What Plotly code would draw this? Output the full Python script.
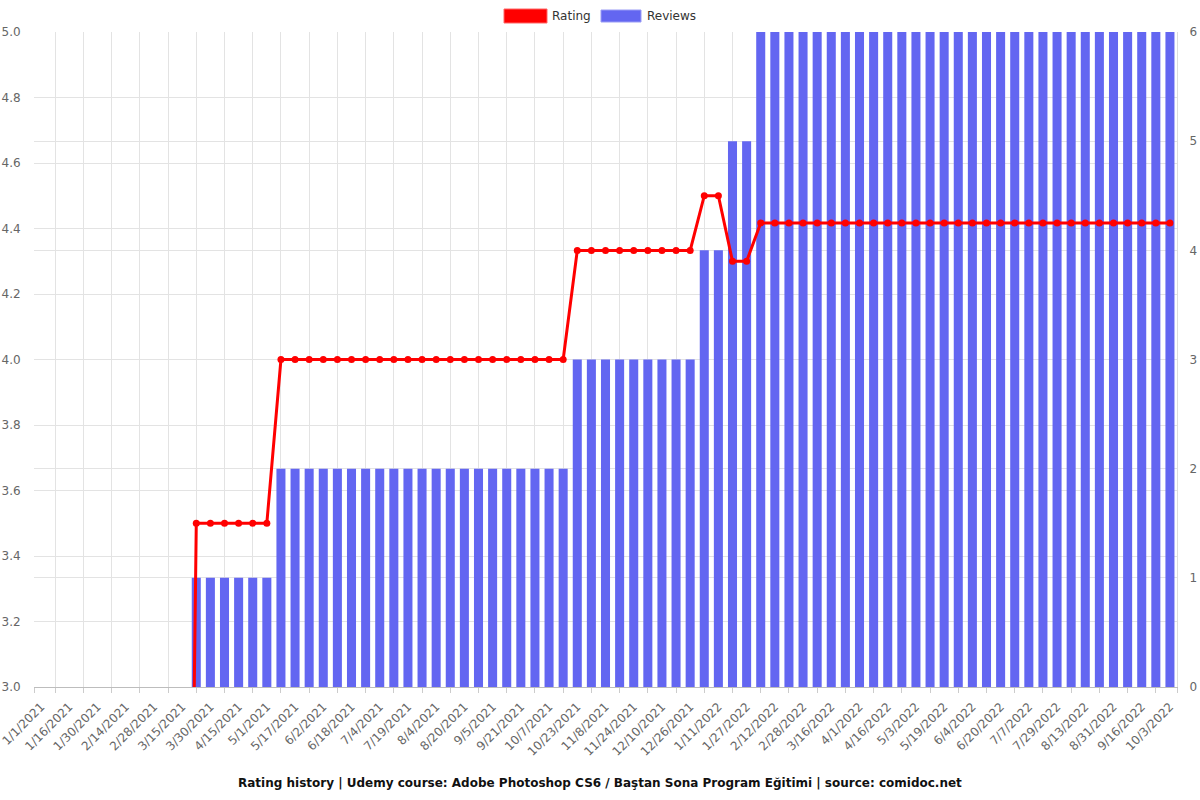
import plotly.graph_objects as go

dates = [
    "1/1/2021", "1/8/2021", "1/16/2021", "1/23/2021", "1/30/2021", "2/7/2021",
    "2/14/2021", "2/21/2021", "2/28/2021", "3/7/2021", "3/15/2021", "3/22/2021",
    "3/30/2021", "4/7/2021", "4/15/2021", "4/23/2021", "5/1/2021", "5/9/2021",
    "5/17/2021", "5/25/2021", "6/2/2021", "6/10/2021", "6/18/2021", "6/26/2021",
    "7/4/2021", "7/11/2021", "7/19/2021", "7/27/2021", "8/4/2021", "8/12/2021",
    "8/20/2021", "8/28/2021", "9/5/2021", "9/13/2021", "9/21/2021", "9/29/2021",
    "10/7/2021", "10/15/2021", "10/23/2021", "10/31/2021", "11/8/2021", "11/16/2021",
    "11/24/2021", "12/2/2021", "12/10/2021", "12/18/2021", "12/26/2021", "1/3/2022",
    "1/11/2022", "1/19/2022", "1/27/2022", "2/4/2022", "2/12/2022", "2/20/2022",
    "2/28/2022", "3/8/2022", "3/16/2022", "3/24/2022", "4/1/2022", "4/8/2022",
    "4/16/2022", "4/24/2022", "5/3/2022", "5/11/2022", "5/19/2022", "5/27/2022",
    "6/4/2022", "6/12/2022", "6/20/2022", "6/28/2022", "7/7/2022", "7/18/2022",
    "7/29/2022", "8/5/2022", "8/13/2022", "8/22/2022", "8/31/2022", "9/8/2022",
    "9/16/2022", "9/24/2022", "10/3/2022",
]

rating = [
    0, 0, 0, 0, 0, 0, 0, 0, 0, 0, 0,
    3.5, 3.5, 3.5, 3.5, 3.5, 3.5,
    4.0, 4.0, 4.0, 4.0, 4.0, 4.0, 4.0, 4.0, 4.0, 4.0, 4.0,
    4.0, 4.0, 4.0, 4.0, 4.0, 4.0, 4.0, 4.0, 4.0, 4.0,
    4.333, 4.333, 4.333, 4.333, 4.333, 4.333, 4.333, 4.333, 4.333,
    4.5, 4.5,
    4.3, 4.3,
    4.417, 4.417, 4.417, 4.417, 4.417, 4.417, 4.417, 4.417, 4.417, 4.417,
    4.417, 4.417, 4.417, 4.417, 4.417, 4.417, 4.417, 4.417, 4.417, 4.417,
    4.417, 4.417, 4.417, 4.417, 4.417, 4.417, 4.417, 4.417, 4.417, 4.417,
]

reviews = [
    0, 0, 0, 0, 0, 0, 0, 0, 0, 0, 0,
    1, 1, 1, 1, 1, 1,
    2, 2, 2, 2, 2, 2, 2, 2, 2, 2, 2,
    2, 2, 2, 2, 2, 2, 2, 2, 2, 2,
    3, 3, 3, 3, 3, 3, 3, 3, 3,
    4, 4,
    5, 5,
    6, 6, 6, 6, 6, 6, 6, 6, 6, 6,
    6, 6, 6, 6, 6, 6, 6, 6, 6, 6,
    6, 6, 6, 6, 6, 6, 6, 6, 6, 6,
]

title_text = ("Rating history | Udemy course: Adobe Photoshop CS6 / Baştan Sona "
              "Program Eğitimi | source: comidoc.net")

RED = "#ff0000"
BLUE = "#6366f1"
GRID = "#e3e3e3"
TXT = "#666666"
FONT = "DejaVu Sans"

idx = list(range(len(dates)))
label_pos = idx[::2]
label_txt = dates[::2]
minor_pos = [-0.5] + idx[1::2] + [len(dates) - 0.5]

fig = go.Figure()
fig.add_trace(go.Bar(
    x=idx, y=reviews, name="Reviews", yaxis="y",
    width=0.64,
    marker=dict(color=BLUE, line=dict(width=0)),
    showlegend=False,
))
fig.add_trace(go.Scatter(
    x=idx, y=rating, name="Rating", yaxis="y2",
    mode="lines+markers",
    line=dict(color=RED, width=3),
    marker=dict(color=RED, size=7),
    showlegend=False,
))

fig.update_layout(
    width=1200, height=800,
    margin=dict(l=34, r=23, t=32, b=113),
    paper_bgcolor="white", plot_bgcolor="white",
    font=dict(family=FONT, size=12, color=TXT),
    xaxis=dict(
        range=[-0.5, len(dates) - 0.5], automargin=False,
        tickmode="array", tickvals=label_pos, ticktext=label_txt,
        tickangle=-45, ticks="", showgrid=False, zeroline=False,
        showline=True, linecolor="#bdbdbd", linewidth=1,
        ticklabelstandoff=7, ticklabeloverflow="allow",
        tickfont=dict(family=FONT, size=12, color=TXT),
        minor=dict(tickmode="array", tickvals=minor_pos, ticks="outside",
                   ticklen=5, tickcolor="#cccccc", showgrid=True,
                   gridcolor=GRID, gridwidth=1),
    ),
    yaxis=dict(
        side="right", range=[0, 6], dtick=1, tickformat="d", automargin=False,
        showgrid=True, gridcolor=GRID, zeroline=False,
        showline=True, linecolor="#dddddd",
        tickfont=dict(family=FONT, size=12, color=TXT),
        ticks="outside", ticklen=9, tickcolor="rgba(0,0,0,0)",
        ticklabeloverflow="allow",
    ),
    yaxis2=dict(
        side="left", overlaying="y", range=[3, 5], dtick=0.2, automargin=False,
        tickformat=".1f",
        showgrid=True, gridcolor=GRID, zeroline=False,
        showline=False,
        tickfont=dict(family=FONT, size=12, color=TXT),
        ticks="outside", ticklen=10, tickcolor="rgba(0,0,0,0)",
        ticklabeloverflow="allow",
    ),
    shapes=[
        dict(type="rect", xref="paper", yref="paper", layer="above",
             x0=(504 - 34) / 1143, x1=(547 - 34) / 1143,
             y0=1 + (32 - 23) / 655, y1=1 + (32 - 9) / 655,
             fillcolor=RED, line=dict(color="#ff6666", width=1)),
        dict(type="rect", xref="paper", yref="paper", layer="above",
             x0=(601 - 34) / 1143, x1=(641 - 34) / 1143,
             y0=1 + (32 - 22) / 655, y1=1 + (32 - 10) / 655,
             fillcolor=BLUE, line=dict(color="#9a9cf5", width=1)),
    ],
    annotations=[
        dict(text="Rating", xref="paper", yref="paper",
             x=(550 - 34) / 1143, y=1 + (32 - 16) / 655,
             xanchor="left", yanchor="middle", showarrow=False,
             font=dict(family=FONT, size=12, color="#333333")),
        dict(text="Reviews", xref="paper", yref="paper",
             x=(645 - 34) / 1143, y=1 + (32 - 16) / 655,
             xanchor="left", yanchor="middle", showarrow=False,
             font=dict(family=FONT, size=12, color="#333333")),
        dict(text="<b>" + title_text + "</b>", xref="paper", yref="paper",
             x=(600 - 34) / 1143, y=-(783 - 687) / 655,
             xanchor="center", yanchor="middle", showarrow=False,
             font=dict(family=FONT, size=12, color="#111111")),
    ],
)

fig.write_html("out.html")
